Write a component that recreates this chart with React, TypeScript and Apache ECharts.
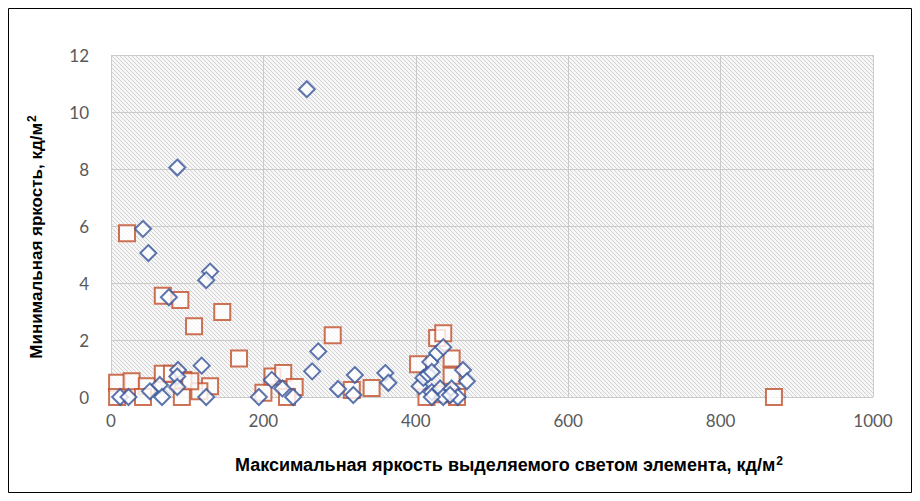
import React, { useEffect, useRef } from "react";
import * as echarts from "echarts";

// Series 1: red squares [max luminance, min luminance]
const squaresData: number[][] = [
  [870, 0],
  [21, 5.75], [68, 3.55], [91, 3.4], [146, 2.98], [109, 2.48], [168, 1.35], [291, 2.17],
  [8, 0.5], [8, 0], [27, 0.55], [47, 0.38], [42, 0], [68, 0.82], [80, 0.82], [95, 0.6],
  [93, 0], [130, 0.38], [116, 0.2], [104, 0.55],
  [200, 0.15], [212, 0.72], [226, 0.84], [241, 0.35], [231, 0],
  [316, 0.25], [342, 0.32],
  [403, 1.15], [428, 2.07], [436, 2.24], [447, 1.35], [447, 0.75], [414, 0], [454, 0], [436, 0.1],
];

// Series 2: blue diamonds
const diamondsData: number[][] = [
  [257, 10.8], [87, 8.05], [42, 5.9], [49, 5.05], [130, 4.4], [125, 4.1], [76, 3.5],
  [12, 0], [23, 0], [51, 0.2], [64, 0.42], [67, 0], [88, 0.95], [87, 0.72], [87, 0.35],
  [119, 1.1], [125, 0],
  [194, 0], [211, 0.6], [225, 0.3], [239, 0], [264, 0.9], [272, 1.6],
  [298, 0.28], [320, 0.77], [318, 0.07], [360, 0.84], [364, 0.5],
  [405, 0.38], [410, 0.67], [416, 0.8], [419, 1.23], [428, 1.54], [436, 1.75], [421, 0.88],
  [421, 0.17], [432, 0.3], [447, 0.3], [462, 0.95], [467, 0.55], [436, 0], [455, 0],
  [445, 0.07], [421, 0],
];

const xTitle = "Максимальная яркость выделяемого светом элемента, кд/м";
const yTitle = "Минимальная яркость, кд/м";

function makeHatch(): HTMLCanvasElement {
  const s = 4;
  const c = document.createElement("canvas");
  c.width = s;
  c.height = s;
  const ctx = c.getContext("2d")!;
  ctx.fillStyle = "#f7f7f7";
  ctx.fillRect(0, 0, s, s);
  ctx.strokeStyle = "#d2d2d2";
  ctx.lineWidth = 1;
  ctx.beginPath();
  ctx.moveTo(-1, -1);
  ctx.lineTo(s + 1, s + 1);
  ctx.moveTo(-1, s - 1);
  ctx.lineTo(1, s + 1);
  ctx.moveTo(s - 1, -1);
  ctx.lineTo(s + 1, 1);
  ctx.stroke();
  return c;
}

export default function App() {
  const ref = useRef<HTMLDivElement>(null);
  useEffect(() => {
    if (!ref.current) return;
    const chart = echarts.init(ref.current, null, { renderer: "svg" });
    const hatch = makeHatch();
    const tickFont = "Lato, 'Open Sans', sans-serif";
    const titleFont = "'Liberation Sans', Arial, sans-serif";
    const makeRich = (size: number) => ({
      t: { fontSize: size, fontWeight: "bold", fontFamily: titleFont, fill: "#000" },
      s: { fontSize: 12, fontWeight: "bold", fontFamily: titleFont, fill: "#000", verticalAlign: "top", padding: [0, 0, 9, 1] },
    });
    chart.setOption({
      animation: false,
      backgroundColor: "#ffffff",
      grid: {
        left: 111,
        top: 55,
        right: 47,
        bottom: 104,
        show: true,
        borderWidth: 0,
        backgroundColor: { image: hatch, repeat: "repeat", imageWidth: 4, imageHeight: 4 } as any,
      },
      xAxis: {
        type: "value",
        min: 0,
        max: 1000,
        interval: 200,
        axisLine: { show: false },
        axisTick: { show: false },
        splitLine: { show: true, lineStyle: { color: "#cbcbcb", width: 1 } },
        axisLabel: {
          color: "#595959",
          fontSize: 17,
          fontFamily: tickFont,
          margin: 15,
          formatter: (v: number) => String(v),
        },
      },
      yAxis: {
        type: "value",
        min: 0,
        max: 12,
        interval: 2,
        axisLine: { show: false },
        axisTick: { show: false },
        splitLine: { show: true, lineStyle: { color: "#cbcbcb", width: 1 } },
        axisLabel: {
          color: "#595959",
          fontSize: 17,
          fontFamily: tickFont,
          margin: 22,
          formatter: (v: number) => String(v),
        },
      },
      series: [
        {
          type: "scatter",
          data: squaresData,
          symbol: "rect",
          symbolSize: 16,
          itemStyle: { color: "#ffffff", borderColor: "#c24f2a", borderWidth: 2 },
        },
        {
          type: "scatter",
          data: diamondsData,
          symbol: "diamond",
          symbolSize: 16,
          itemStyle: { color: "#ffffff", borderColor: "#34539a", borderWidth: 2 },
        },
      ],
      graphic: [
        {
          type: "rect",
          shape: { x: 8.5, y: 8.5, width: 903, height: 484 },
          style: { fill: "none", stroke: "#000000", lineWidth: 1 },
          silent: true,
        },
        {
          type: "text",
          x: 509,
          y: 465,
          style: {
            text: "{t|" + xTitle + "}{s|2}",
            align: "center",
            verticalAlign: "middle",
            rich: makeRich(18),
          },
        },
        {
          type: "text",
          x: 36,
          y: 237,
          rotation: Math.PI / 2,
          style: {
            text: "{t|" + yTitle + "}{s|2}",
            align: "center",
            verticalAlign: "middle",
            rich: makeRich(17),
          },
        },
      ],
    });
    return () => chart.dispose();
  }, []);
  return (
    <div
      ref={ref}
      style={{ position: "absolute", left: 0, top: 0, width: 920, height: 501 }}
    />
  );
}
